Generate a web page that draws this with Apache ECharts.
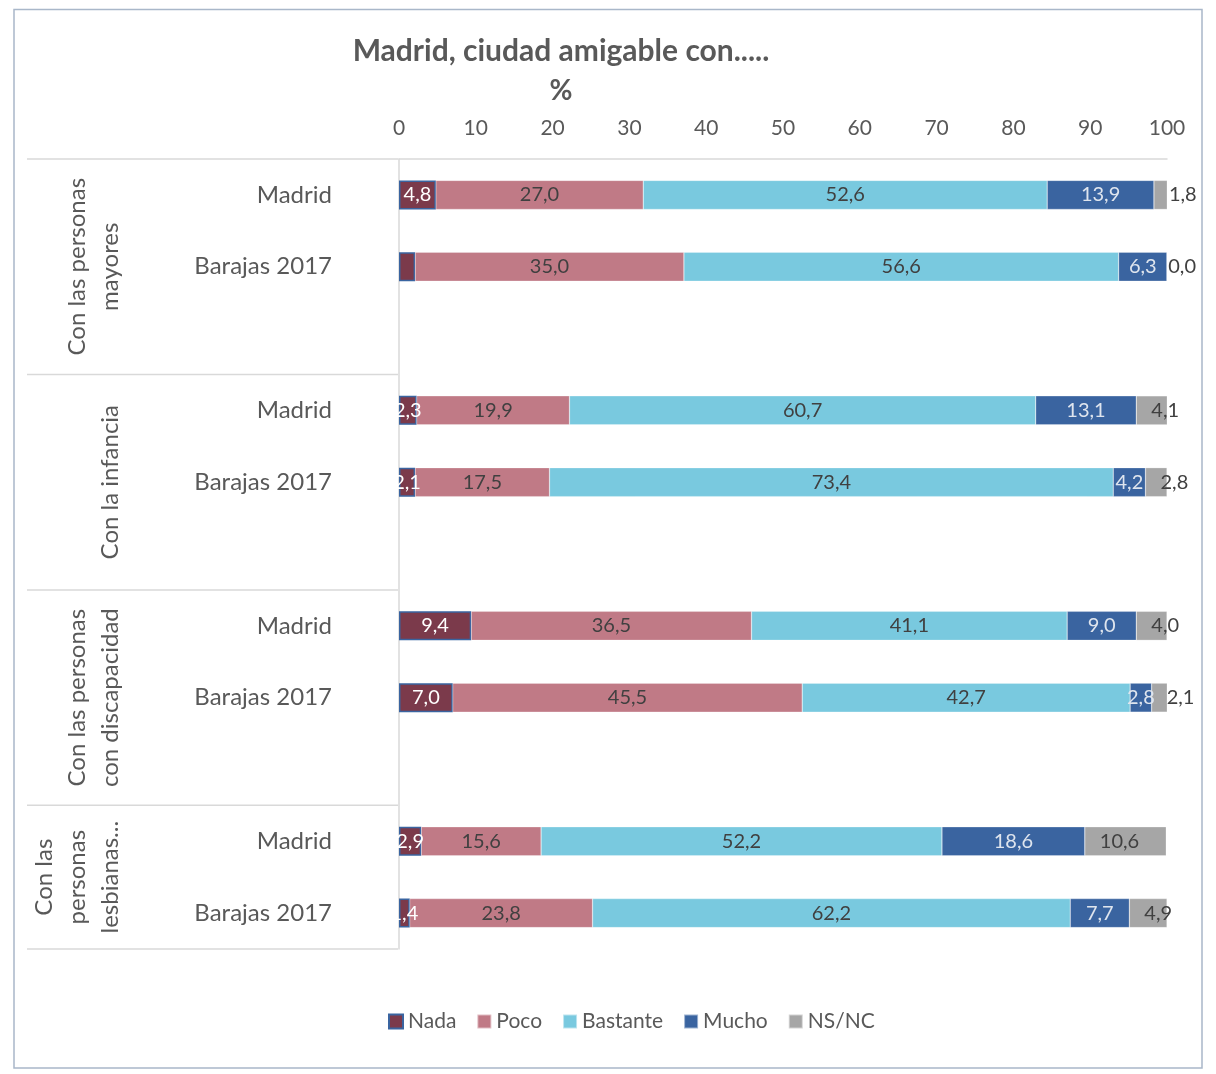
<!DOCTYPE html>
<html>
<head>
<meta charset="utf-8">
<script src="https://cdn.jsdelivr.net/npm/echarts@6/dist/echarts.min.js"></script>
<style>
html,body{margin:0;padding:0;background:#fff;}
#main{width:1216px;height:1074px;}
</style>
</head>
<body>
<div id="main"></div>
<script>
// ---- data ----
const categories = ['Madrid', 'Barajas 2017', '', 'Madrid', 'Barajas 2017', '', 'Madrid', 'Barajas 2017', '', 'Madrid', 'Barajas 2017'];
const groupLabels = ['Con las personas\nmayores', 'Con la infancia', 'Con las personas\ncon discapacidad', 'Con las\npersonas\nlesbianas...'];
const groupFirst = [0, 3, 6, 9];
const groupLast = [2, 5, 8, 10];
const seriesNames = ['Nada', 'Poco', 'Bastante', 'Mucho', 'NS/NC'];
const nada     = [4.8, 2.1, null, 2.3, 2.1, null, 9.4, 7.0, null, 2.9, 1.4];
const poco     = [27.0, 35.0, null, 19.9, 17.5, null, 36.5, 45.5, null, 15.6, 23.8];
const bastante = [52.6, 56.6, null, 60.7, 73.4, null, 41.1, 42.7, null, 52.2, 62.2];
const mucho    = [13.9, 6.3, null, 13.1, 4.2, null, 9.0, 2.8, null, 18.6, 7.7];
const nsnc     = [1.8, 0.0, null, 4.1, 2.8, null, 4.0, 2.1, null, 10.6, 4.9];
const xTicks = {min: 0, max: 100, interval: 10};
const nadaHiddenLabel = [1];

// ---- styling ----
const FONT = 'Lato';
const GRAY = '#595959';
const colors = ['#7b3a4b', '#c07a86', '#79c9df', '#3a64a0', '#a6a6a6'];
const labelColors = ['#ffffff', '#404040', '#404040', '#dfe5ee', '#404040'];
const fmt = p => (p.value == null ? '' : Number(p.value).toFixed(1).replace('.', ','));

const seriesValues = [nada, poco, bastante, mucho, nsnc];
const series = seriesValues.map((vals, si) => {
  const data = vals.map((v, i) => {
    if (v == null) return '-';
    if (si === 0 && nadaHiddenLabel.includes(i)) return {value: v, label: {show: false}};
    if (si === 4 && v === 0) return {value: v, label: {position: 'right', distance: 1}};
    return v;
  });
  return {
    name: seriesNames[si],
    type: 'bar',
    stack: 'total',
    barWidth: 29,
    data: data,
    itemStyle: si === 0
      ? {color: colors[si], borderColor: '#3a64a0', borderWidth: 1.5}
      : {color: colors[si], borderColor: 'rgba(255,255,255,0.5)', borderWidth: 0.5},
    label: {
      show: true,
      position: si === 4 ? 'insideLeft' : 'inside',
      distance: si === 4 ? 15 : 5,
      formatter: fmt,
      color: labelColors[si],
      fontFamily: FONT,
      fontSize: 20
    },
    emphasis: {disabled: true}
  };
});

const option = {
  animation: false,
  backgroundColor: '#ffffff',
  title: [
    {text: 'Madrid, ciudad amigable con.....', left: 556, top: 31, textAlign: 'center',
     textStyle: {fontFamily: FONT, fontSize: 30, fontWeight: 'bold', color: GRAY}},
    {text: '%', left: 556, top: 72, textAlign: 'center',
     textStyle: {fontFamily: FONT, fontSize: 28, fontWeight: 'bold', color: GRAY}}
  ],
  legend: {
    data: seriesNames,
    left: 383,
    top: 1006,
    icon: 'rect',
    itemWidth: 14,
    itemHeight: 14,
    itemGap: 20,
    textStyle: {fontFamily: FONT, fontSize: 21, color: GRAY}
  },
  grid: {left: 399, right: 49, top: 159, bottom: 125, containLabel: false},
  xAxis: {
    type: 'value',
    position: 'top',
    min: xTicks.min, max: xTicks.max, interval: xTicks.interval,
    axisLine: {show: true, lineStyle: {color: '#d9d9d9', width: 1.5}},
    axisTick: {show: false},
    splitLine: {show: false},
    axisLabel: {fontFamily: FONT, fontSize: 21, color: GRAY, margin: 20}
  },
  yAxis: {
    type: 'category',
    inverse: true,
    data: categories,
    axisLine: {show: true, lineStyle: {color: '#d9d9d9', width: 1.5}},
    axisTick: {show: false},
    axisLabel: {fontFamily: FONT, fontSize: 24, color: GRAY, margin: 67}
  },
  series: series
};

const chart = echarts.init(document.getElementById('main'), null, {renderer: 'canvas'});
chart.setOption(option);

function drawDecor() {
  const c0 = chart.convertToPixel({yAxisIndex: 0}, 0);
  const c1 = chart.convertToPixel({yAxisIndex: 0}, 1);
  const band = c1 - c0;
  const gridLeft = chart.convertToPixel({xAxisIndex: 0}, 0);
  const elements = [];
  const lineX1 = 27, lineX2 = gridLeft - 1;
  const bounds = [];
  groupFirst.forEach((f, g) => {
    const top = chart.convertToPixel({yAxisIndex: 0}, f) - band / 2;
    const bot = chart.convertToPixel({yAxisIndex: 0}, groupLast[g]) + band / 2;
    bounds.push(top);
    if (g === groupFirst.length - 1) bounds.push(bot);
    elements.push({
      type: 'text',
      x: 127,
      y: (top + bot) / 2,
      rotation: Math.PI / 2,
      silent: true,
      style: {
        text: groupLabels[g],
        fill: GRAY,
        fontFamily: FONT,
        fontSize: 24,
        lineHeight: 33,
        align: 'center',
        verticalAlign: 'bottom'
      }
    });
  });
  bounds.forEach(b => {
    elements.push({
      type: 'line', silent: true,
      shape: {x1: lineX1, y1: b, x2: lineX2, y2: b},
      style: {stroke: '#d9d9d9', lineWidth: 1.5}
    });
  });
  elements.push({
    type: 'rect', silent: true,
    shape: {x: 14, y: 9.5, width: 1188, height: 1058.5},
    style: {fill: null, stroke: '#a9b7c9', lineWidth: 1.5}
  });
  chart.setOption({graphic: {elements: elements}});
}
drawDecor();
</script>
</body>
</html>
